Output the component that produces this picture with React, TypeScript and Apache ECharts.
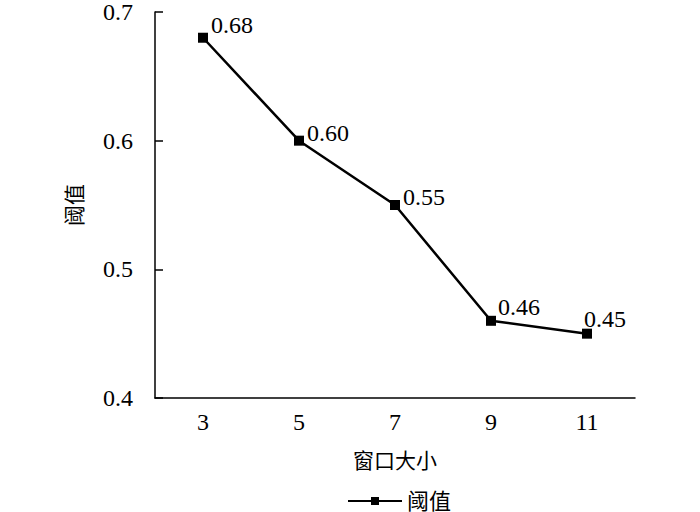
import React, { useEffect, useRef } from "react";
import * as echarts from "echarts";

const categories = ["3", "5", "7", "9", "11"];
const values = [0.68, 0.6, 0.55, 0.46, 0.45];
const labelTexts = ["0.68", "0.60", "0.55", "0.46", "0.45"];
const labelOffsets: [number, number][] = [
  [1, -13],
  [1, -8],
  [1, -8],
  [0, -14],
  [-10, -15],
];
const yTicks = { min: 0.4, max: 0.7, interval: 0.1 };
const seriesName = "阈值";
const xName = "窗口大小";
const yName = "阈值";

const FONT = "'Liberation Serif', 'Times New Roman', 'Noto Sans CJK SC', serif";

export default function App() {
  const ref = useRef<HTMLDivElement>(null);
  useEffect(() => {
    if (!ref.current) return;
    const chart = echarts.init(ref.current, undefined, { renderer: "svg" });
    chart.setOption({
      animation: false,
      backgroundColor: "#ffffff",
      textStyle: { fontFamily: FONT, color: "#000" },
      grid: { left: 155, top: 12, width: 480, height: 386 },
      legend: {
        left: 342,
        top: 485,
        itemWidth: 54,
        itemHeight: 10,
        itemGap: 2,
        textStyle: { fontFamily: FONT, fontSize: 22, color: "#000" },
        data: [seriesName],
      },
      xAxis: {
        type: "category",
        data: categories,
        boundaryGap: true,
        name: xName,
        nameLocation: "middle",
        nameGap: 52,
        nameTextStyle: { fontFamily: FONT, fontSize: 21, color: "#000" },
        axisLine: { lineStyle: { color: "#000", width: 1.5 } },
        axisTick: { inside: true, alignWithLabel: true, length: 7, lineStyle: { color: "#000", width: 1.5 } },
        axisLabel: { fontFamily: FONT, fontSize: 24, color: "#000", margin: 12 },
        splitLine: { show: false },
      },
      yAxis: {
        type: "value",
        min: yTicks.min,
        max: yTicks.max,
        interval: yTicks.interval,
        name: yName,
        nameLocation: "middle",
        nameGap: 70,
        nameRotate: 90,
        nameTextStyle: { fontFamily: FONT, fontSize: 21, color: "#000" },
        axisLine: { show: true, lineStyle: { color: "#000", width: 1.5 } },
        axisTick: { show: true, inside: true, length: 8, lineStyle: { color: "#000", width: 1.5 } },
        axisLabel: { fontFamily: FONT, fontSize: 24, color: "#000", margin: 22, formatter: (v: number) => v.toFixed(1) },
        splitLine: { show: false },
      },
      series: [
        {
          name: seriesName,
          type: "line",
          data: values.map((v, i) => ({
            value: v,
            label: { offset: labelOffsets[i], formatter: labelTexts[i] },
          })),
          symbol: "rect",
          symbolSize: 10,
          itemStyle: { color: "#000" },
          lineStyle: { color: "#000", width: 2.5 },
          label: {
            show: true,
            position: "right",
            distance: 2,
            fontFamily: FONT,
            fontSize: 24,
            color: "#000",
          },
        },
      ],
    });
    return () => chart.dispose();
  }, []);
  return (
    <div
      ref={ref}
      style={{ width: 700, height: 512, position: "absolute", left: 0, top: 0 }}
    />
  );
}
